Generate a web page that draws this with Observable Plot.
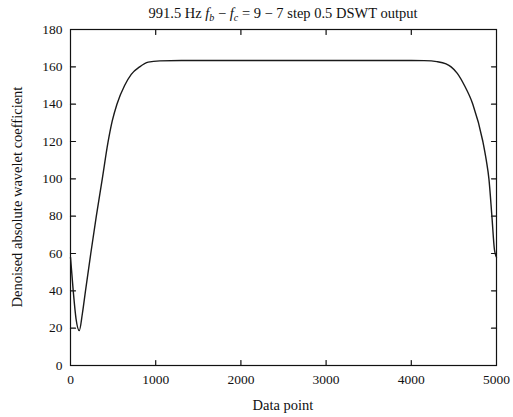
<!DOCTYPE html>
<html>
<head>
<meta charset="utf-8">
<script src="https://cdn.jsdelivr.net/npm/d3@7"></script>
<script src="https://cdn.jsdelivr.net/npm/@observablehq/plot@0.6"></script>
<style>
  html, body { margin: 0; padding: 0; background: #fff; }
  svg { font-family: "Liberation Serif", "DejaVu Serif", serif; }
</style>
</head>
<body>
<div id="chart"></div>
<script>
const dataPoint = [0, 32, 65, 103, 140, 176, 238, 303, 373, 440, 490, 545, 635, 713, 812, 912, 1050, 1300, 2000, 3000, 4000, 4150, 4300, 4408, 4467, 4540, 4624, 4722, 4840, 4880, 4911, 4946, 4976, 5000];
const coefficient = [58, 40, 25, 18.7, 28, 40, 60, 80, 100, 119.5, 131, 140, 150, 156, 160, 162.5, 163.2, 163.4, 163.4, 163.4, 163.4, 163.3, 162.8, 161.6, 160, 156.5, 150, 140, 120, 110, 100, 80, 62, 58];
const xTicks = [0, 1000, 2000, 3000, 4000, 5000];
const yTicks = [0, 20, 40, 60, 80, 100, 120, 140, 160, 180];
const xLabel = "Data point";
const yLabel = "Denoised absolute wavelet coefficient";

const rows = dataPoint.map((d, i) => ({x: d, y: coefficient[i]}));
const tickShape = {draw(context, l) { context.moveTo(0, 0); context.lineTo(0, -l); }};

const chart = Plot.plot({
  width: 513,
  height: 417,
  marginLeft: 70,
  marginRight: 17,
  marginTop: 29,
  marginBottom: 52,
  style: {fontFamily: '"Liberation Serif", "DejaVu Serif", serif', fontSize: "13px", color: "#111", background: "#fff"},
  x: {domain: [0, 5000]},
  y: {domain: [0, 180]},
  marks: [
    Plot.axisX(xTicks, {anchor: "bottom", tickSize: 0, tickPadding: 9, tickFormat: "d", label: null, fontSize: 13.5}),
    Plot.axisY(yTicks, {anchor: "left", tickSize: 0, tickPadding: 8, tickFormat: "d", label: null, fontSize: 13.5}),
    Plot.vector(xTicks.slice(1, -1), {x: d => d, y: 0, length: 5, rotate: 0, anchor: "start", shape: tickShape, stroke: "#111", strokeWidth: 1.2}),
    Plot.vector(xTicks.slice(1, -1), {x: d => d, y: 180, length: 5, rotate: 180, anchor: "start", shape: tickShape, stroke: "#111", strokeWidth: 1.2}),
    Plot.vector(yTicks.slice(1, -1), {x: 0, y: d => d, length: 5, rotate: 90, anchor: "start", shape: tickShape, stroke: "#111", strokeWidth: 1.2}),
    Plot.vector(yTicks.slice(1, -1), {x: 5000, y: d => d, length: 5, rotate: -90, anchor: "start", shape: tickShape, stroke: "#111", strokeWidth: 1.2}),
    Plot.frame({stroke: "#111", strokeWidth: 1.2}),
    Plot.line(rows, {x: "x", y: "y", curve: "monotone-x", stroke: "#1a1a1a", strokeWidth: 1.4})
  ]
});

const svg = d3.select(chart);
const t = svg.append("text")
  .attr("x", 283).attr("y", 18)
  .attr("text-anchor", "middle")
  .attr("font-size", 14.5)
  .attr("fill", "#111");
t.append("tspan").text("991.5 Hz ");
t.append("tspan").attr("font-style", "italic").text("f");
t.append("tspan").attr("font-style", "italic").attr("font-size", 10).attr("dy", 3).text("b");
t.append("tspan").attr("dy", -3).text(" \u2212 ");
t.append("tspan").attr("font-style", "italic").text("f");
t.append("tspan").attr("font-style", "italic").attr("font-size", 10).attr("dy", 3).text("c");
t.append("tspan").attr("dy", -3).text(" = 9 \u2212 7 step 0.5 DSWT output");

svg.append("text")
  .attr("x", 283).attr("y", 410)
  .attr("text-anchor", "middle")
  .attr("font-size", 14.5)
  .attr("fill", "#111")
  .text(xLabel);

svg.append("text")
  .attr("transform", "translate(22,197) rotate(-90)")
  .attr("text-anchor", "middle")
  .attr("font-size", 14.5)
  .attr("fill", "#111")
  .text(yLabel);

document.getElementById("chart").appendChild(chart);
</script>
</body>
</html>
